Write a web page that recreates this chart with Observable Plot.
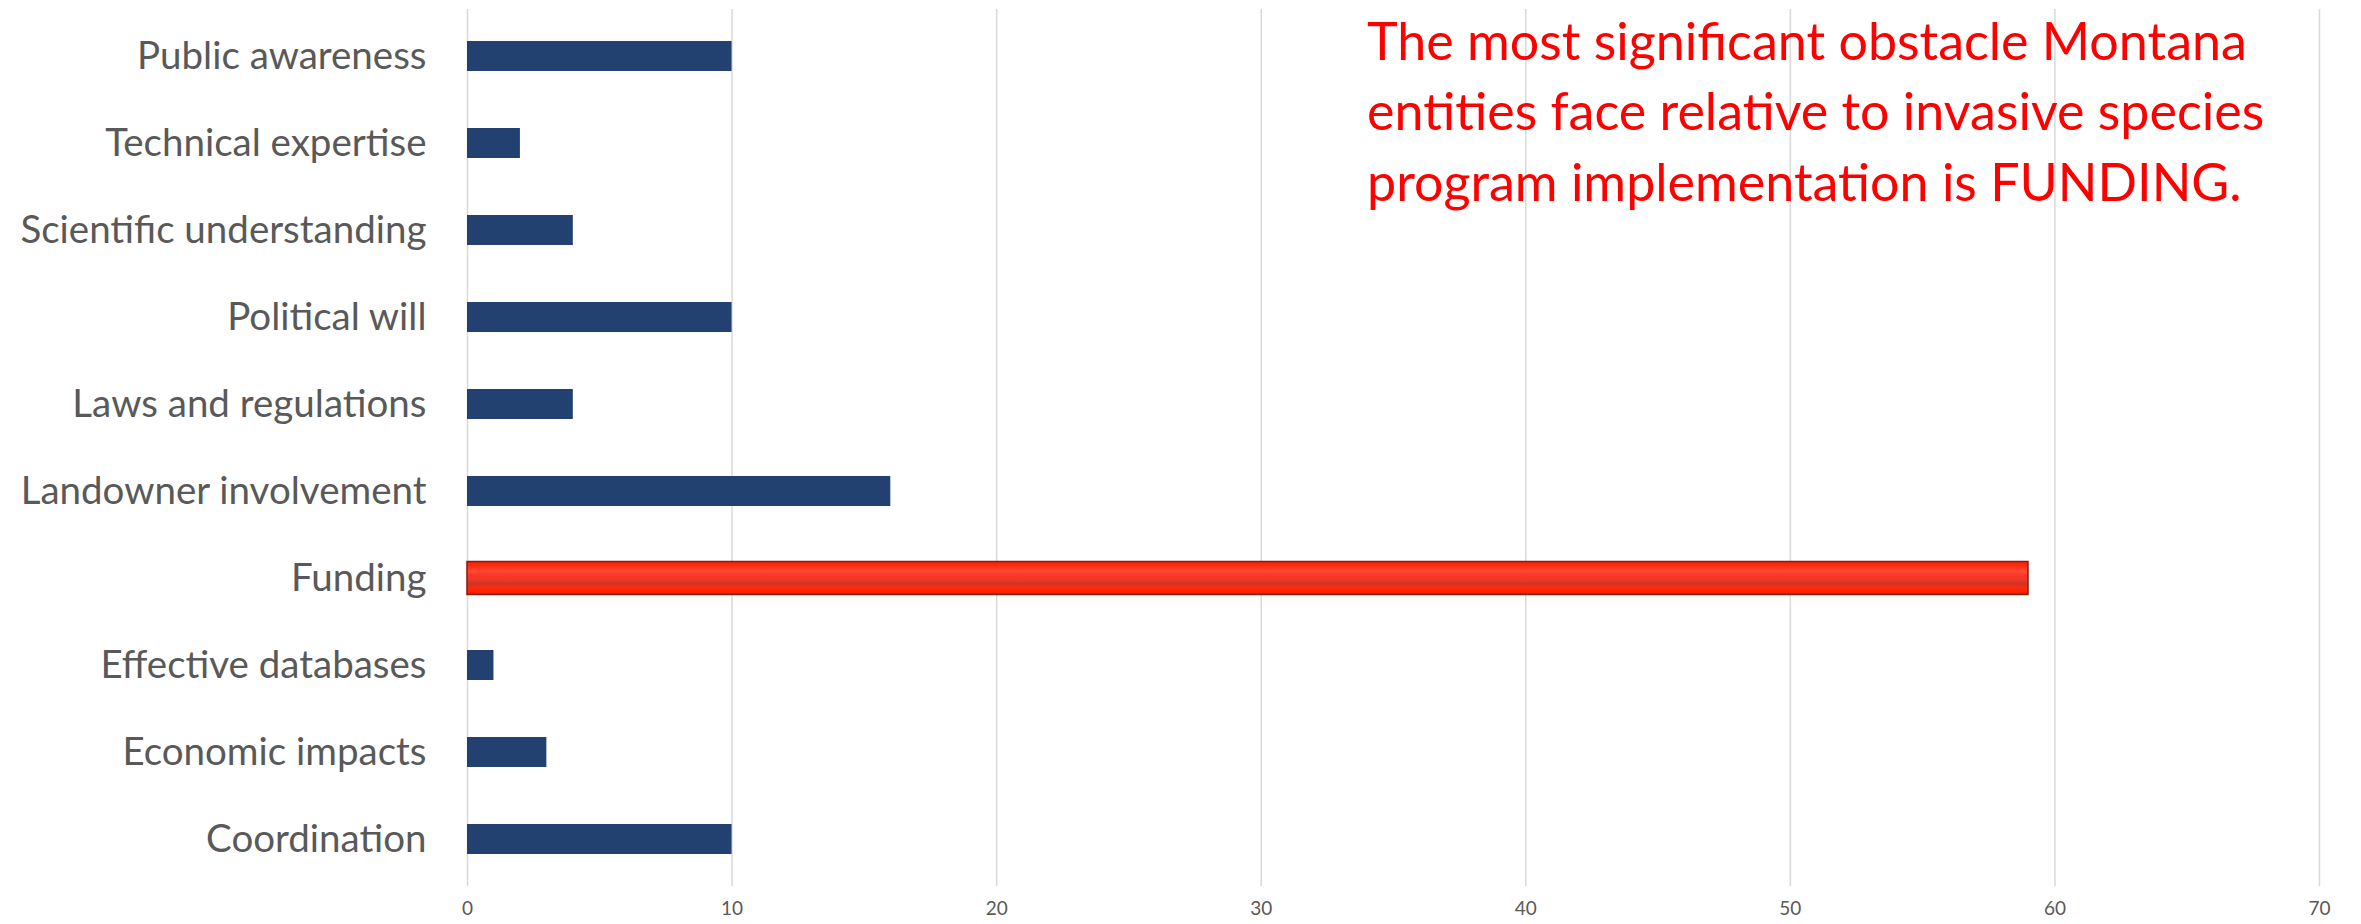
<!DOCTYPE html>
<html><head><meta charset="utf-8">
<script src="https://cdn.jsdelivr.net/npm/d3@7"></script>
<script src="https://cdn.jsdelivr.net/npm/@observablehq/plot@0.6"></script>
<style>html,body{margin:0;padding:0;background:#fff;}</style>
</head><body><div id="chart"></div>
<script>
const categories = ["Public awareness","Technical expertise","Scientific understanding","Political will","Laws and regulations","Landowner involvement","Funding","Effective databases","Economic impacts","Coordination"];
const values = [10,2,4,10,4,16,59,1,3,10];
const highlight = "Funding";
const xTicks = [0,10,20,30,40,50,60,70];
const annotation = "The most significant obstacle Montana\nentities face relative to invasive species\nprogram implementation is FUNDING.";
const annotationX = 34;

const data = categories.map((c, i) => ({category: c, value: values[i]}));

const plot = Plot.plot({
  width: 2361, height: 924,
  marginLeft: 467, marginRight: 42, marginTop: 9, marginBottom: 38,
  style: {fontFamily: "Lato, 'Open Sans', sans-serif", background: "#fff", color: "#595959"},
  x: {domain: [0, 70], label: null},
  y: {domain: categories, paddingInner: 0.66, paddingOuter: 0.33, label: null},
  marks: [
    Plot.gridX(xTicks, {stroke: "#d9d9d9", strokeOpacity: 1, strokeWidth: 1.5}),
    Plot.barX(data, {filter: d => d.category !== highlight, x: "value", y: "category", fill: "#234170"}),
    Plot.barX(data, {filter: d => d.category === highlight, x: "value", y: "category", fill: "url(#fundGrad)", stroke: "#8a1a0c", strokeWidth: 1.5, insetTop: -1.5, insetBottom: -1.5}),
    Plot.axisX(xTicks, {tickSize: 0, tickPadding: 15, fontSize: 19, fill: "#595959", label: null}),
    Plot.axisY({tickSize: 0, tickPadding: 41, fontSize: 38.5, fill: "#595959", label: null}),
    Plot.text([annotation], {x: () => annotationX, frameAnchor: "top", textAnchor: "start", lineAnchor: "top", dy: 0, fontSize: 52, lineHeight: 1.36, fill: "#ff0000"})
  ]
});

const svg = d3.select(plot);
const defs = svg.insert("defs", ":first-child");
const g = defs.append("linearGradient").attr("id", "fundGrad").attr("x1", 0).attr("x2", 0).attr("y1", 0).attr("y2", 1);
[[0, "#e82810"], [0.12, "#ff2a0a"], [0.3, "#ff4a38"], [0.42, "#ff3424"], [0.55, "#ec3a28"], [0.68, "#cc3422"], [0.78, "#ff2a10"], [0.92, "#ff2200"], [1, "#e0200a"]]
  .forEach(([o, c]) => g.append("stop").attr("offset", o).attr("stop-color", c));

document.getElementById("chart").appendChild(plot);
</script>
</body></html>
